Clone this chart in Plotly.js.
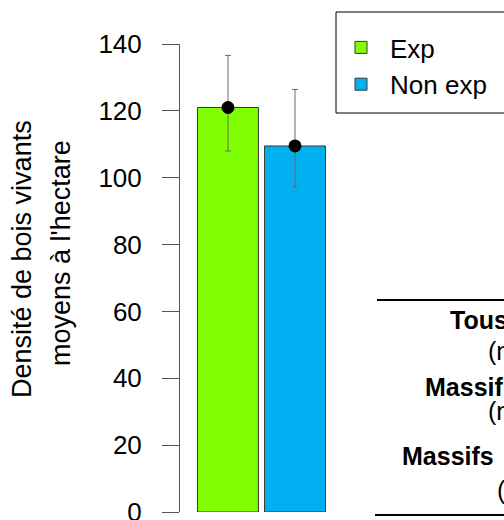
<!DOCTYPE html>
<html>
<head>
<meta charset="utf-8">
<script src="https://cdn.plot.ly/plotly-3.0.1.min.js"></script>
<style>html,body{margin:0;padding:0;background:#fff;overflow:hidden}#chart{width:504px;height:520px}</style>
</head>
<body>
<div id="chart"></div>
<script>
// Data
const categories = ['Exp', 'Non exp'];
const means = [121.0, 109.5];
const errPlus = [15.6, 16.9];
const errMinus = [13.0, 12.3];
const barColors = ['#7FFF00', '#00B0F0'];
const yTicks = [0, 20, 40, 60, 80, 100, 120, 140];
const yTitleLines = ['Densité de bois vivants', "moyens à l'hectare"];
const tableRows = ['Tous', '(n', 'Massif', '(n', 'Massifs', '('];
const tableBold = [true, false, true, false, true, false];

const FONT = 'Liberation Sans, Arial, sans-serif';

const traces = categories.map((c, i) => ({
  type: 'bar',
  name: c,
  x: [c],
  y: [means[i]],
  marker: {color: barColors[i], line: {color: '#3a3a3a', width: 1}},
  legendgroup: 'g' + i,
  hoverinfo: 'skip'
}));
traces.push({
  type: 'scatter',
  mode: 'markers',
  x: categories,
  y: means,
  showlegend: false,
  marker: {color: '#000', size: 13, symbol: 'circle'},
  error_y: {type: 'data', symmetric: false, array: errPlus, arrayminus: errMinus,
            color: '#6b6b6b', thickness: 1, width: 3}
});

// pixel helpers for placing annotations (plot area: x 180..343, y 44..512)
const L = 180, W = 163, T = 44, H = 468;
const px = v => (v - L) / W;
const py = v => (T + H - v) / H;

const rowX = [448, 486, 423, 486, 400, 495];
const rowY = [320, 351, 387, 411, 456, 490];
const annotations = tableRows.map((t, i) => ({
  xref: 'paper', yref: 'paper', x: px(rowX[i]), y: py(rowY[i]),
  xanchor: 'left', yanchor: 'middle', showarrow: false,
  text: tableBold[i] ? '<b>' + t + '</b>' : t,
  font: {family: FONT, size: 25, color: '#000'}
}));
const titleX = [22, 61], titleY = [259, 253];
yTitleLines.forEach((t, i) => annotations.push({
  xref: 'paper', yref: 'paper', x: px(titleX[i]), y: py(titleY[i]),
  xanchor: 'center', yanchor: 'middle', showarrow: false, textangle: -90,
  text: t, font: {family: FONT, size: 27, color: '#000'}
}));

const shapes = [
  {type: 'rect', xref: 'paper', yref: 'paper', x0: px(336), x1: px(520), y0: py(113), y1: py(12),
   line: {color: '#000', width: 1}, fillcolor: 'rgba(0,0,0,0)'},
  {type: 'line', xref: 'paper', yref: 'paper', x0: px(377), x1: px(520), y0: py(300), y1: py(300),
   line: {color: '#000', width: 2}},
  {type: 'line', xref: 'paper', yref: 'paper', x0: px(375), x1: px(520), y0: py(515), y1: py(515),
   line: {color: '#000', width: 2}}
];

const layout = {
  width: 504, height: 520,
  margin: {l: L, r: 504 - L - W, t: T, b: 520 - T - H, pad: 0},
  paper_bgcolor: '#fff', plot_bgcolor: '#fff',
  font: {family: FONT, size: 26, color: '#000'},
  barmode: 'overlay',
  bargap: 0.09,
  showlegend: true,
  legend: {x: px(332), y: py(24), xanchor: 'left', yanchor: 'top', xref: 'paper', yref: 'paper',
           bgcolor: 'rgba(0,0,0,0)', borderwidth: 0, tracegroupgap: 0, itemwidth: 48,
           font: {family: FONT, size: 26, color: '#000'}},
  xaxis: {type: 'category', range: [-0.716, 1.716], showline: false, showgrid: false,
          zeroline: false, showticklabels: false, ticks: '', fixedrange: true},
  yaxis: {range: [0, 140], tickvals: yTicks, showline: true, linecolor: '#555', linewidth: 1,
          ticks: 'outside', ticklen: 17, tickcolor: '#555', tickwidth: 1, ticklabelstandoff: 15,
          ticklabeloverflow: 'allow',
          showgrid: false, zeroline: false, tickfont: {family: FONT, size: 26, color: '#000'},
          fixedrange: true},
  annotations: annotations,
  shapes: shapes
};

Plotly.newPlot('chart', traces, layout, {staticPlot: true, displayModeBar: false});
</script>
</body>
</html>
